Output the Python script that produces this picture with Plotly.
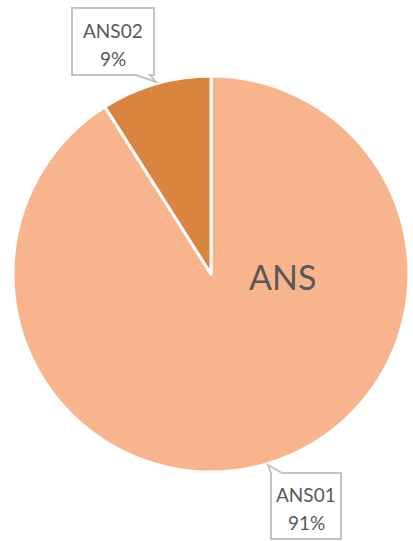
import plotly.graph_objects as go

W, H = 413, 541

labels = ["ANS01", "ANS02"]
values = [91, 9]
colors = ["#F8B48C", "#D9843F"]
title_text = "ANS"

total = sum(values)
pcts = [f"{round(v / total * 100)}%" for v in values]


def px(x):
    return x / W


def py(y):
    return 1 - y / H


def path(points):
    s = "M " + " L ".join(f"{px(x):.5f},{py(y):.5f}" for x, y in points) + " Z"
    return s


fig = go.Figure(
    go.Pie(
        labels=labels,
        values=values,
        sort=False,
        direction="clockwise",
        rotation=0,
        marker=dict(colors=colors, line=dict(color="white", width=3)),
        textinfo="none",
        hoverinfo="skip",
        showlegend=False,
        domain=dict(x=[px(13), px(409)], y=[py(472), py(76)]),
    )
)

box_line = dict(color="#C4C4C4", width=2)
shapes = [
    dict(type="path", xref="paper", yref="paper",
         path=path([(72, 8), (154, 8), (154, 75), (150, 75), (156, 82), (136, 75), (72, 75)]),
         fillcolor="white", line=box_line, layer="above"),
    dict(type="path", xref="paper", yref="paper",
         path=path([(271, 539), (271, 473), (268, 465), (282, 473), (341, 473), (341, 539)]),
         fillcolor="white", line=box_line, layer="above"),
]

font_small = dict(family="Lato, Carlito, Calibri, sans-serif", size=19, color="#595959")
annotations = [
    dict(text=labels[1], x=px(113), y=py(30), xref="paper", yref="paper",
         showarrow=False, xanchor="center", yanchor="middle", font=font_small),
    dict(text=pcts[1], x=px(113), y=py(58), xref="paper", yref="paper",
         showarrow=False, xanchor="center", yanchor="middle", font=font_small),
    dict(text=labels[0], x=px(306), y=py(494), xref="paper", yref="paper",
         showarrow=False, xanchor="center", yanchor="middle", font=font_small),
    dict(text=pcts[0], x=px(306), y=py(522), xref="paper", yref="paper",
         showarrow=False, xanchor="center", yanchor="middle", font=font_small),
    dict(text=title_text, x=px(282), y=py(276), xref="paper", yref="paper",
         showarrow=False, xanchor="center", yanchor="middle",
         font=dict(family="Lato, Carlito, Calibri, sans-serif", size=34, color="#595959")),
]

fig.update_layout(
    width=W,
    height=H,
    margin=dict(l=0, r=0, t=0, b=0),
    paper_bgcolor="white",
    plot_bgcolor="white",
    shapes=shapes,
    annotations=annotations,
)

fig.write_html(
    "out.html",
    config={"displayModeBar": False},
    post_script="document.body.style.margin='0px';document.body.style.overflow='hidden';",
)
